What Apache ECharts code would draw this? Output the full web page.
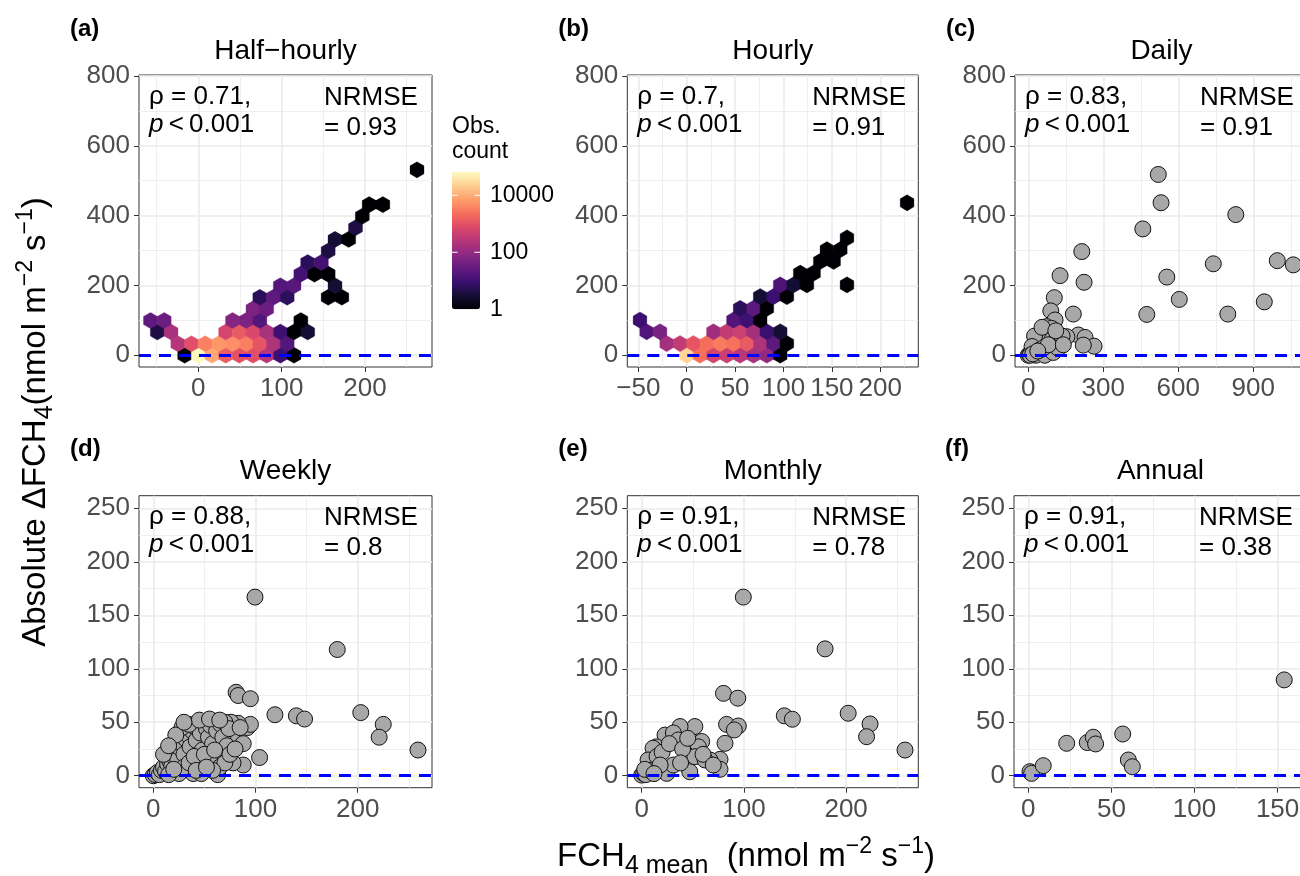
<!DOCTYPE html>
<html>
<head>
<meta charset="utf-8">
<script src="https://cdn.jsdelivr.net/npm/echarts@6/dist/echarts.min.js"></script>
<style>
  html, body { margin: 0; padding: 0; background: #fff; }
  #chart { width: 1300px; height: 876px; }
</style>
</head>
<body>
<div id="chart"></div>
<script>
const FONT = '"Liberation Sans", Arial, sans-serif';

// ---- text ----
const titles = ['Half\u2212hourly', 'Hourly', 'Daily', 'Weekly', 'Monthly', 'Annual'];
const tags = ['(a)', '(b)', '(c)', '(d)', '(e)', '(f)'];
const rho = ['0.71', '0.7', '0.83', '0.88', '0.91', '0.91'];
const nrmse = ['0.93', '0.91', '0.91', '0.8', '0.78', '0.38'];

// ---- ticks ----
const yTicksTop = [0, 200, 400, 600, 800];
const yMinorTop = [100, 300, 500, 700];
const yTicksBottom = [0, 50, 100, 150, 200, 250];
const yMinorBottom = [25, 75, 125, 175, 225];
const xTicks = [[0, 100, 200], [-50, 0, 50, 100, 150, 200], [0, 300, 600, 900],
                [0, 100, 200], [0, 100, 200], [0, 50, 100, 150]];
const xMinor = [[-50, 50, 150, 250], [-25, 25, 75, 125, 175, 225], [150, 450, 750, 1050],
                [50, 150, 250], [50, 150, 250], [25, 75, 125]];
const legendTicks = [1, 100, 10000];
const countMax = 67000;

// ---- (a) half-hourly hexbins: centre x, centre y, count ----
const hexA_x = [
  -16.4, 0, 16.4, 32.8, 49.2, 65.6, 82, 98.4, 114.8,
  -24.6, -8.2, 8.2, 24.6, 41, 57.4, 73.8, 90.2, 106.6,
  -49.2, -32.8, 32.8, 49.2, 65.6, 82, 98.4, 114.8, 131.2,
  -57.4, -41, 41, 57.4, 73.8, 123,
  65.6, 82,
  73.8, 90.2, 106.6, 155.8, 172.2,
  98.4, 114.8, 164,
  123, 139.4, 155.8,
  131.2, 147.6,
  155.8,
  164, 180.4,
  188.6,
  196.8,
  205, 221.4,
  262.4];
const hexA_y = [
  0, 0, 0, 0, 0, 0, 0, 0, 0,
  33.2, 33.2, 33.2, 33.2, 33.2, 33.2, 33.2, 33.2, 33.2,
  66.4, 66.4, 66.4, 66.4, 66.4, 66.4, 66.4, 66.4, 66.4,
  99.6, 99.6, 99.6, 99.6, 99.6, 99.6,
  132.8, 132.8,
  166, 166, 166, 166, 166,
  199.2, 199.2, 199.2,
  232.4, 232.4, 232.4,
  265.6, 265.6,
  298.8,
  332, 332,
  365.2,
  398.4,
  431.6, 431.6,
  531.2];
const hexA_n = [
  1, 60000, 9000, 1400, 1000, 900, 250, 10, 1,
  250, 900, 3500, 6000, 5000, 3500, 1100, 200, 18,
  4, 180, 600, 1300, 700, 180, 10, 1, 3,
  25, 35, 70, 55, 18, 1,
  55, 35,
  6, 25, 6, 1, 1,
  18, 20, 3,
  12, 1, 1,
  6, 12,
  4,
  3, 1,
  4,
  1,
  1, 1,
  1];

// ---- (b) hourly hexbins ----
const hexB_x = [
  0, 13.8, 27.6, 41.4, 55.2, 69, 82.8, 96.6,
  -20.7, -6.9, 6.9, 20.7, 34.5, 48.3, 62.1, 75.9, 89.7, 103.5,
  -41.4, -27.6, 27.6, 41.4, 55.2, 69, 82.8, 96.6,
  -48.3, 48.3, 62.1, 75.9,
  55.2, 69, 82.8,
  75.9, 89.7, 103.5,
  96.6, 110.4, 124.2, 165.6,
  117.3, 131.1,
  138, 151.8,
  144.9, 158.7,
  165.6,
  227.7];
const hexB_y = [
  0, 0, 0, 0, 0, 0, 0, 0,
  33.6, 33.6, 33.6, 33.6, 33.6, 33.6, 33.6, 33.6, 33.6, 33.6,
  67.2, 67.2, 67.2, 67.2, 67.2, 67.2, 67.2, 67.2,
  100.8, 100.8, 100.8, 100.8,
  134.4, 134.4, 134.4,
  168, 168, 168,
  201.6, 201.6, 201.6, 201.6,
  235.2, 235.2,
  268.8, 268.8,
  302.4, 302.4,
  336,
  436.8];
const hexB_n = [
  25000, 2400, 560, 450, 260, 170, 100, 1,
  150, 350, 1100, 2200, 3000, 2500, 1300, 200, 22, 1,
  17, 50, 140, 350, 450, 150, 9, 3,
  9, 17, 10, 1,
  6, 22, 1,
  3, 9, 1,
  15, 3, 1, 1,
  1, 1,
  1, 1,
  1, 1,
  1,
  1];

// ---- (c) daily ----
const daily_x = [520, 531, 458, 830, 214, 127, 223, 554, 740, 996, 1060, 604, 474, 798, 944, 104, 90, 180, 107,
  200, 227, 263, 154, 220, 73, 93,
  0, 5, 12, 20, 28, 35, 42, 50, 58, 65, 72, 80, 88, 30, 40, 50, 60, 25, 55, 95, 105, 115, 125, 135,
  90, 70, 50, 30, 66, 100, 120, 15, 45, 62, 80, 110, 140, 8, 18, 38];
const daily_y = [518, 437, 362, 403, 297, 228, 209, 224, 262, 271, 259, 160, 117, 118, 153, 165, 127, 118, 101,
  58, 51, 26, 53, 29, 82, 77,
  0, 2, 5, 10, 14, 20, 25, 30, 36, 42, 48, 55, 62, 40, 50, 58, 65, 55, 80, 45, 35, 50, 40, 55,
  20, 10, 5, 0, 0, 8, 20, 25, 15, 22, 30, 70, 30, 0, 4, 12];

// ---- (d) weekly ----
const weekly_x = [99.5, 180, 81, 83, 95, 119, 140, 148, 203, 225, 221, 259, 104, 88, 78, 92, 95, 78, 83, 76,
  0, 2, 4, 6, 8, 10, 12, 14, 16, 18, 20, 22, 24, 26, 28, 30, 32, 34, 36, 38, 40, 42, 44, 46, 48, 50,
  52, 54, 56, 58, 60, 62, 64, 66, 68, 70, 72, 74, 25, 39, 47, 63, 15, 30, 35, 45, 55, 65, 20, 40,
  50, 60, 70, 28, 22, 35, 45, 55, 65, 10, 15, 30, 85, 88, 75, 80, 58, 42, 52];
const weekly_y = [167, 118, 78, 75, 72, 57, 56, 53, 59, 48, 36, 24, 17, 10, 12, 45, 48, 38, 49, 50,
  0, 1, 3, 1, 5, 8, 4, 11, 14, 9, 18, 22, 15, 26, 30, 20, 34, 38, 27, 42, 46, 33, 49, 40, 24, 50,
  44, 36, 47, 30, 51, 42, 18, 48, 36, 50, 28, 44, 2, 2, 2, 1, 1, 8, 12, 10, 15, 8, 6, 18,
  20, 24, 12, 45, 38, 48, 52, 53, 52, 20, 28, 50, 45, 30, 20, 25, 5, 5, 8];

// ---- (e) monthly ----
const monthly_x = [99.4, 179.4, 80, 94, 139.5, 147.4, 202, 223.4, 220, 257.6, 83, 94.5, 90.6, 81.5, 76.6, 76.6,
  66.8, 52, 37.5, 58.7, 55.4, 47, 24.5, 22.8, 31, 35.8, 14.3, 11.1, 6.2, 31, 44, 52, 62,
  0, 2, 4, 8, 3, 15, 20, 27, 40, 45, 60, 18, 12, 38, 70];
const monthly_y = [167, 118.6, 77, 72.5, 56, 52.8, 58.4, 48.4, 36.5, 24, 48, 46.5, 42.8, 30.3, 15.3, 6,
  14.7, 46, 46, 32, 27, 3.7, 2.2, 38, 40, 33.4, 27, 25.7, 14.7, 10, 19.4, 17.8, 14.7,
  0.6, 2, 1, 5, 6, 18, 22, 30, 25, 35, 20, 10, 2, 12, 10];

// ---- (f) annual ----
const annual_x = [1, 2, 9, 23.1, 35.5, 39.1, 40.5, 56.8, 60.2, 62.6, 154];
const annual_y = [3.8, 2.2, 9.4, 30.3, 31, 36, 29.7, 39, 14.7, 8.4, 89.6];

// ---- layout ----
const panelBox = [
  { left: 139, width: 293, xmin: -71.2, xmax: 280.4 },
  { left: 627.3, width: 291, xmin: -61.4, xmax: 239.3 },
  { left: 1015, width: 293, xmin: -53.2, xmax: 1118.8 },
  { left: 139, width: 293, xmin: -14, xmax: 272.7 },
  { left: 627.3, width: 291, xmin: -14.1, xmax: 270.6 },
  { left: 1014, width: 293, xmin: -8.6, xmax: 167.7 }
];
const rows = [
  { top: 75, ymin: -33.7, ymax: 803, ticks: yTicksTop, minor: yMinorTop },
  { top: 495.7, ymin: -11.2, ymax: 261.8, ticks: yTicksBottom, minor: yMinorBottom }
];
const H = 292;

const magma = ['#000004', '#140e36', '#3b0f70', '#641a80', '#8c2981', '#b73779',
               '#de4968', '#f7705c', '#fe9f6d', '#fecf92', '#fcfdbf'];

function fmt(v) { return v < 0 ? '\u2212' + Math.abs(v) : String(v); }

function hexRender(w, r) {
  const corners = [[0, r], [w, r / 2], [w, -r / 2], [0, -r], [-w, -r / 2], [-w, r / 2]];
  return function (params, api) {
    const x = api.value(0), y = api.value(1);
    const pts = corners.map(d => api.coord([x + d[0], y + d[1]]));
    return { type: 'polygon', shape: { points: pts }, style: { fill: api.visual('color'), stroke: api.visual('color'), lineWidth: 0.3 } };
  };
}

function hexData(xs, ys, ns) {
  return xs.map((v, k) => [v, ys[k], Math.log10(ns[k])]);
}
function pts(xs, ys) {
  return xs.map((v, k) => [v, ys[k]]);
}

const option = {
  animation: false,
  textStyle: { fontFamily: FONT },
  grid: [], xAxis: [], yAxis: [], series: [], graphic: [],
  visualMap: {
    type: 'continuous', min: 0, max: Math.log10(countMax), dimension: 2, seriesIndex: [0, 1],
    inRange: { color: magma }, orient: 'vertical', left: 452, top: 171.7,
    itemWidth: 28, itemHeight: 137.6, padding: 0, calculable: false, hoverLink: false
  }
};

// data series first (visualMap refers to 0 and 1)
option.series.push({
  type: 'custom', xAxisIndex: 0, yAxisIndex: 0, z: 3, clip: true,
  renderItem: hexRender(8.4, 23), data: hexData(hexA_x, hexA_y, hexA_n)
});
option.series.push({
  type: 'custom', xAxisIndex: 1, yAxisIndex: 1, z: 3, clip: true,
  renderItem: hexRender(7.1, 23.3), data: hexData(hexB_x, hexB_y, hexB_n)
});
const scatterSets = [[2, daily_x, daily_y], [3, weekly_x, weekly_y], [4, monthly_x, monthly_y], [5, annual_x, annual_y]];
scatterSets.forEach(s => {
  option.series.push({
    type: 'scatter', xAxisIndex: s[0], yAxisIndex: s[0], z: 3, clip: true,
    symbol: 'circle', symbolSize: 16,
    itemStyle: { color: '#a8a8a8', borderColor: '#111', borderWidth: 1, opacity: 1 },
    data: pts(s[1], s[2])
  });
});

for (let i = 0; i < 6; i++) {
  const p = panelBox[i];
  const row = rows[i < 3 ? 0 : 1];

  option.grid.push({
    left: p.left, top: row.top, width: p.width, height: H,
    show: true, borderColor: '#333', borderWidth: 1, backgroundColor: 'transparent',
    outerBoundsMode: 'none'
  });
  option.xAxis.push({
    type: 'value', gridIndex: i, min: p.xmin, max: p.xmax,
    splitLine: { show: false },
    axisLine: { show: false, onZero: false },
    axisTick: { show: true, length: 5, lineStyle: { color: '#333' }, customValues: xTicks[i] },
    axisLabel: { customValues: xTicks[i], color: '#4d4d4d', fontSize: 26, margin: 9, formatter: fmt }
  });
  option.yAxis.push({
    type: 'value', gridIndex: i, min: row.ymin, max: row.ymax,
    splitLine: { show: false },
    axisLine: { show: false, onZero: false },
    axisTick: { show: true, length: 5, lineStyle: { color: '#333' }, customValues: row.ticks },
    axisLabel: { customValues: row.ticks, color: '#4d4d4d', fontSize: 26, margin: 9, formatter: fmt }
  });

  // panel grid lines (major + minor), kept under the marks
  const gl = [];
  xTicks[i].forEach(v => gl.push({ xAxis: v, lineStyle: { width: 1.6 } }));
  xMinor[i].forEach(v => gl.push({ xAxis: v, lineStyle: { width: 0.8 } }));
  row.ticks.forEach(v => gl.push({ yAxis: v, lineStyle: { width: 1.6 } }));
  row.minor.forEach(v => gl.push({ yAxis: v, lineStyle: { width: 0.8 } }));
  option.series.push({
    type: 'scatter', xAxisIndex: i, yAxisIndex: i, data: [], z: 1, silent: true,
    markLine: {
      z: 1, silent: true, symbol: ['none', 'none'], label: { show: false }, animation: false,
      lineStyle: { color: '#ebebeb', type: 'solid' }, data: gl
    }
  });
  // zero line, above the marks
  option.series.push({
    type: 'scatter', xAxisIndex: i, yAxisIndex: i, data: [], z: 10, silent: true,
    markLine: {
      z: 10, silent: true, symbol: ['none', 'none'], label: { show: false }, animation: false,
      lineStyle: { color: '#0000ff', width: 3, type: [12, 8] }, data: [{ yAxis: 0 }]
    }
  });

  // titles, tags, annotations
  const cx = p.left + p.width / 2;
  option.graphic.push({
    type: 'text', x: cx, y: row.top - 24,
    style: { text: titles[i], fontSize: 28, fontFamily: FONT, fill: '#000', align: 'center', verticalAlign: 'middle' }
  });
  option.graphic.push({
    type: 'text', x: p.left - 69, y: row.top - 46,
    style: { text: tags[i], fontSize: 24, fontWeight: 'bold', fontFamily: FONT, fill: '#000', align: 'left', verticalAlign: 'middle' }
  });
  option.graphic.push({
    type: 'text', x: p.left + 10, y: row.top + 7.4, z: 20,
    style: {
      text: '{n|\u03c1 = ' + rho[i] + ',}\n{i|p}{n|\u2009<\u20090.001}',
      fontSize: 26, fontFamily: FONT, fill: '#000', align: 'left', verticalAlign: 'top', lineHeight: 28,
      rich: {
        n: { fontSize: 26, fontFamily: FONT, fill: '#000', lineHeight: 28 },
        i: { fontSize: 26, fontFamily: FONT, fontStyle: 'italic', fill: '#000', lineHeight: 28 }
      }
    }
  });
  option.graphic.push({
    type: 'text', x: p.left + 185, y: row.top + 7.4, z: 20,
    style: {
      text: 'NRMSE\n= ' + nrmse[i],
      fontSize: 26, fontFamily: FONT, fill: '#000', align: 'left', verticalAlign: 'top', lineHeight: 30
    }
  });
}

// colour bar legend
const barTop = 171.7, barH = 137.6, barLeft = 452, barW = 28;
option.graphic.push({
  type: 'text', x: barLeft, y: 114,
  style: { text: 'Obs.\ncount', fontSize: 23, fontFamily: FONT, fill: '#000', align: 'left', verticalAlign: 'top', lineHeight: 25 }
});
legendTicks.forEach(v => {
  const y = barTop + barH * (1 - Math.log10(v) / Math.log10(countMax));
  option.graphic.push({
    type: 'text', x: 490, y: y,
    style: { text: String(v), fontSize: 23, fontFamily: FONT, fill: '#000', align: 'left', verticalAlign: 'middle' }
  });
  if (v > 1) {
    option.graphic.push({ type: 'line', z: 100, shape: { x1: barLeft, y1: y, x2: barLeft + 5.6, y2: y }, style: { stroke: '#fff', lineWidth: 1 } });
    option.graphic.push({ type: 'line', z: 100, shape: { x1: barLeft + barW - 5.6, y1: y, x2: barLeft + barW, y2: y }, style: { stroke: '#fff', lineWidth: 1 } });
  }
});

// shared axis titles
const richTitle = {
  n: { fontSize: 33, fontFamily: FONT, fill: '#000', lineHeight: 44, verticalAlign: 'middle' },
  s: { fontSize: 25, fontFamily: FONT, fill: '#000', lineHeight: 20, verticalAlign: 'bottom' },
  m: { fontSize: 25, fontFamily: FONT, fill: '#000', lineHeight: 14, verticalAlign: 'bottom' },
  p: { fontSize: 23, fontFamily: FONT, fill: '#000', lineHeight: 20, verticalAlign: 'top' }
};
option.graphic.push({
  type: 'text', x: 746, y: 857,
  style: {
    text: '{n|FCH}{s|4}{m| mean}{n|  (nmol m}{p|\u22122}{n| s}{p|\u22121}{n|)}',
    rich: richTitle, align: 'center', verticalAlign: 'middle', fontSize: 33, fontFamily: FONT
  }
});
option.graphic.push({
  type: 'text', x: 36, y: 422, rotation: Math.PI / 2,
  style: {
    text: '{n|Absolute \u0394FCH}{s|4}{n|(nmol m}{p|\u22122}{n| s}{p|\u22121}{n|)}',
    rich: richTitle, align: 'center', verticalAlign: 'middle', fontSize: 33, fontFamily: FONT
  }
});

const chart = echarts.init(document.getElementById('chart'), null, { renderer: 'canvas' });
chart.setOption(option);
</script>
</body>
</html>
